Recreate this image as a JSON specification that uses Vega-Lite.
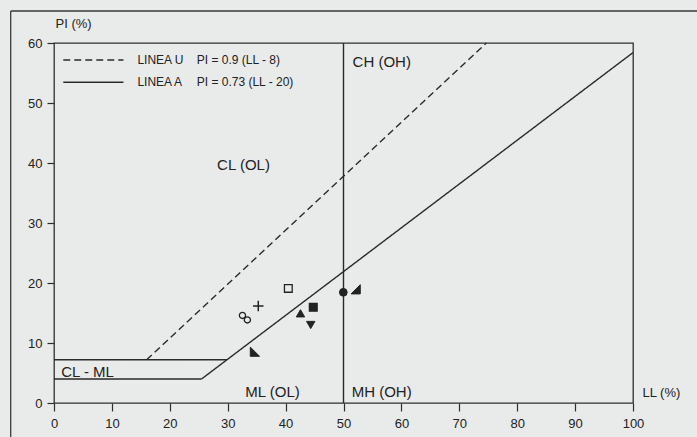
{
  "$schema": "https://vega.github.io/schema/vega-lite/v6.json",
  "width": 579,
  "height": 360,
  "autosize": {"type": "none"},
  "padding": {"left": 54, "top": 43, "right": 64, "bottom": 34},
  "background": "#e9ebea",
  "config": {
    "view": {"stroke": "#2e2e2e", "strokeWidth": 1.3},
    "font": "Liberation Sans",
    "axis": {
      "grid": false,
      "domain": false,
      "tickColor": "#2e2e2e",
      "tickWidth": 1.2,
      "labelColor": "#222222",
      "labelFont": "Liberation Sans",
      "labelFontSize": 13,
      "labelFlush": false,
      "labelOverlap": false,
      "titleFont": "Liberation Sans",
      "titleFontWeight": "normal",
      "titleFontSize": 13,
      "titleColor": "#222222"
    }
  },
  "datasets": {
    "lines": [
      {"id": "U", "type": "U", "LL": 16, "PI": 7.2},
      {"id": "U", "type": "U", "LL": 74.67, "PI": 60},
      {"id": "A", "type": "A", "LL": 25.48, "PI": 4},
      {"id": "A", "type": "A", "LL": 100, "PI": 58.4},
      {"id": "H4", "type": "A", "LL": 0, "PI": 4},
      {"id": "H4", "type": "A", "LL": 25.48, "PI": 4},
      {"id": "H7", "type": "A", "LL": 0, "PI": 7.2},
      {"id": "H7", "type": "A", "LL": 29.86, "PI": 7.2},
      {"id": "V50", "type": "A", "LL": 50, "PI": 0},
      {"id": "V50", "type": "A", "LL": 50, "PI": 60},
      {"id": "LegU", "type": "U", "LL": 1.6, "PI": 57.17},
      {"id": "LegU", "type": "U", "LL": 12, "PI": 57.17},
      {"id": "LegA", "type": "A", "LL": 1.6, "PI": 53.45},
      {"id": "LegA", "type": "A", "LL": 12, "PI": 53.45}
    ],
    "frame": [
      {"id": "top", "LL": -7.48, "PI": 65.33},
      {"id": "top", "LL": 112, "PI": 65.33},
      {"id": "left", "LL": -7.48, "PI": 65.33},
      {"id": "left", "LL": -7.48, "PI": -7}
    ],
    "points": [
      {"marker": "open square", "LL": 40.47, "PI": 19.1},
      {"marker": "plus", "LL": 35.28, "PI": 16.17},
      {"marker": "open circle", "LL": 32.55, "PI": 14.6},
      {"marker": "open circle", "LL": 33.4, "PI": 13.85},
      {"marker": "triangle up", "LL": 42.57, "PI": 14.95},
      {"marker": "filled square", "LL": 44.78, "PI": 15.95},
      {"marker": "triangle down", "LL": 44.34, "PI": 13.0},
      {"marker": "filled circle", "LL": 49.97, "PI": 18.45},
      {"marker": "right triangle A", "LL": 52.1, "PI": 18.95},
      {"marker": "right triangle B", "LL": 34.7, "PI": 8.55}
    ],
    "regions": [
      {"label": "CL (OL)", "LL": 32.73, "PI": 39.7},
      {"label": "CH (OH)", "LL": 56.6, "PI": 56.9},
      {"label": "ML (OL)", "LL": 37.74, "PI": 1.9},
      {"label": "MH (OH)", "LL": 56.6, "PI": 1.9},
      {"label": "CL - ML", "LL": 5.79, "PI": 5.2}
    ],
    "legend": [
      {"label": "LINEA U", "LL": 14.4, "PI": 57.17},
      {"label": "PI = 0.9 (LL - 8)", "LL": 24.65, "PI": 57.17},
      {"label": "LINEA A", "LL": 14.4, "PI": 53.45},
      {"label": "PI = 0.73 (LL - 20)", "LL": 24.65, "PI": 53.45}
    ]
  },
  "encoding": {
    "x": {
      "field": "LL", "type": "quantitative",
      "scale": {"domain": [0, 100], "nice": false, "zero": false},
      "axis": {
        "values": [0, 10, 20, 30, 40, 50, 60, 70, 80, 90, 100],
        "tickSize": 8, "labelPadding": 6,
        "title": "LL (%)", "titleX": 588, "titleY": -11, "titleAlign": "left", "titleBaseline": "middle", "titleAngle": 0
      }
    },
    "y": {
      "field": "PI", "type": "quantitative",
      "scale": {"domain": [0, 60], "nice": false, "zero": false},
      "axis": {
        "values": [0, 10, 20, 30, 40, 50, 60],
        "tickSize": 7, "labelPadding": 5,
        "title": "PI (%)", "titleX": 1, "titleY": -20, "titleAlign": "left", "titleBaseline": "middle", "titleAngle": 0
      }
    }
  },
  "layer": [
    {
      "data": {"name": "frame"},
      "mark": {"type": "line", "color": "#3a3a3a", "strokeWidth": 1.3, "clip": false},
      "encoding": {"detail": {"field": "id"}}
    },
    {
      "data": {"name": "lines"},
      "mark": {"type": "line", "color": "#2a2a2a", "strokeWidth": 1.4},
      "encoding": {
        "detail": {"field": "id"},
        "strokeDash": {
          "field": "type", "type": "nominal",
          "scale": {"domain": ["U", "A"], "range": [[7, 4], [1, 0]]},
          "legend": null
        }
      }
    },
    {
      "data": {"name": "points"},
      "encoding": {
        "shape": {
          "field": "marker", "type": "nominal",
          "scale": {
            "domain": ["open square", "plus", "open circle", "triangle up", "filled square", "triangle down", "filled circle", "right triangle A", "right triangle B"],
            "range": ["square", "M-1,0H1M0,-1V1", "circle", "triangle-up", "square", "triangle-down", "circle", "M1,-1L1,1L-1,1Z", "M-1,-1L-1,1L1,1Z"]
          },
          "legend": null
        },
        "fill": {
          "field": "marker", "type": "nominal",
          "scale": {
            "domain": ["open square", "plus", "open circle", "triangle up", "filled square", "triangle down", "filled circle", "right triangle A", "right triangle B"],
            "range": ["transparent", "transparent", "transparent", "#222222", "#222222", "#222222", "#222222", "#222222", "#222222"]
          },
          "legend": null
        }
      },
      "layer": [
        {
          "transform": [{"filter": {"field": "marker", "oneOf": ["open square", "filled square"]}}],
          "mark": {"type": "point", "filled": true, "stroke": "#222222", "strokeWidth": 1.3, "opacity": 1, "size": 60}
        },
        {
          "transform": [{"filter": {"field": "marker", "equal": "plus"}}],
          "mark": {"type": "point", "filled": true, "stroke": "#222222", "strokeWidth": 1.5, "opacity": 1, "size": 110}
        },
        {
          "transform": [{"filter": {"field": "marker", "equal": "open circle"}}],
          "mark": {"type": "point", "filled": true, "stroke": "#222222", "strokeWidth": 1.3, "opacity": 1, "size": 38}
        },
        {
          "transform": [{"filter": {"field": "marker", "oneOf": ["triangle up", "triangle down"]}}],
          "mark": {"type": "point", "filled": true, "stroke": "#222222", "strokeWidth": 1, "opacity": 1, "size": 70}
        },
        {
          "transform": [{"filter": {"field": "marker", "equal": "filled circle"}}],
          "mark": {"type": "point", "filled": true, "stroke": "#222222", "strokeWidth": 1, "opacity": 1, "size": 60}
        },
        {
          "transform": [{"filter": {"field": "marker", "oneOf": ["right triangle A", "right triangle B"]}}],
          "mark": {"type": "point", "filled": true, "stroke": "#222222", "strokeWidth": 1, "opacity": 1, "size": 85}
        }
      ]
    },
    {
      "data": {"name": "regions"},
      "mark": {"type": "text", "font": "Liberation Sans", "fontSize": 15, "color": "#222222", "align": "center", "baseline": "middle"},
      "encoding": {"text": {"field": "label"}}
    },
    {
      "data": {"name": "legend"},
      "mark": {"type": "text", "font": "Liberation Sans", "fontSize": 12, "color": "#222222", "align": "left", "baseline": "middle"},
      "encoding": {"text": {"field": "label"}}
    }
  ]
}
